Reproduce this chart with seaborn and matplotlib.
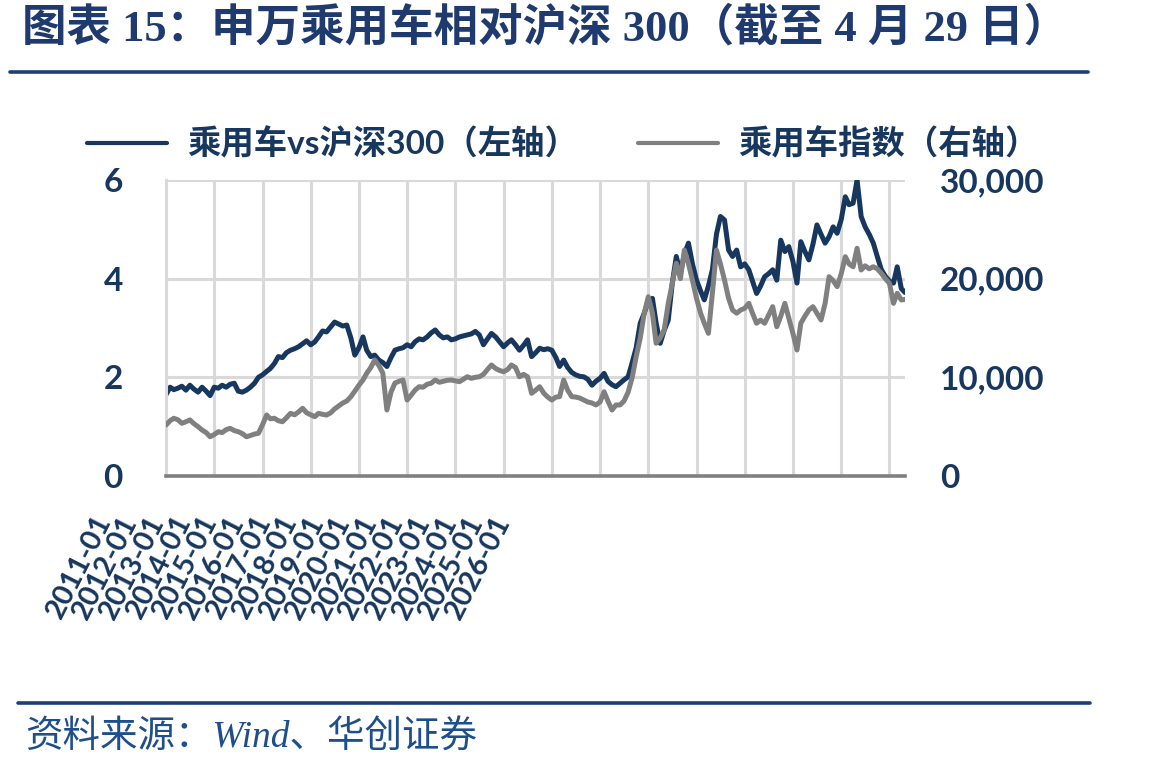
import pandas as pd
import numpy as np

import seaborn as sns
import matplotlib.pyplot as plt
from matplotlib.lines import Line2D
from matplotlib.ticker import FuncFormatter


# monthly readings, 2011-01 .. 2026-04, plus the last day (2026-04-29)
first_month = "2011-01-01"
last_day = "2026-04-29"

ratio_vals = [
    1.65, 1.80, 1.75, 1.78, 1.82, 1.74, 1.84, 1.76, 1.70, 1.80, 1.72, 1.63,  # 2011
    1.80, 1.78, 1.84, 1.80, 1.86, 1.88, 1.72, 1.70, 1.74, 1.80, 1.88, 2.00,  # 2012
    2.05, 2.12, 2.18, 2.28, 2.42, 2.40, 2.50, 2.55, 2.58, 2.62, 2.68, 2.74,  # 2013
    2.66, 2.72, 2.82, 2.94, 2.92, 3.02, 3.12, 3.08, 3.04, 3.06, 2.80, 2.45,  # 2014
    2.60, 2.82, 2.55, 2.42, 2.45, 2.35, 2.30, 2.22, 2.40, 2.55, 2.58, 2.60,  # 2015
    2.66, 2.62, 2.72, 2.78, 2.76, 2.82, 2.90, 2.96, 2.86, 2.80, 2.82, 2.76,  # 2016
    2.78, 2.82, 2.84, 2.86, 2.88, 2.93, 2.86, 2.66, 2.78, 2.89, 2.82, 2.72,  # 2017
    2.62, 2.70, 2.76, 2.66, 2.55, 2.65, 2.76, 2.42, 2.50, 2.59, 2.56, 2.58,  # 2018
    2.55, 2.40, 2.22, 2.35, 2.20, 2.10, 2.05, 2.02, 2.01, 1.96, 1.84, 1.92,  # 2019
    1.98, 2.08, 1.92, 1.85, 1.81, 1.88, 1.95, 2.01, 2.30, 2.60, 3.10, 3.30,  # 2020
    3.55, 3.60, 3.10, 2.69, 2.95, 3.16, 3.90, 4.45, 4.10, 4.50, 4.72, 4.30,  # 2021
    3.97, 3.75, 3.57, 3.85, 4.18, 4.90, 5.26, 5.19, 4.58, 4.45, 4.58, 4.24,  # 2022
    4.30, 4.18, 3.95, 3.70, 3.85, 4.04, 4.10, 4.18, 3.97, 4.78, 4.55, 4.65,  # 2023
    4.35, 3.91, 4.75, 4.55, 4.38, 4.70, 5.09, 4.90, 4.72, 4.85, 5.05, 4.92,  # 2024
    5.20, 5.66, 5.50, 5.53, 6.00, 5.26, 5.05, 4.90, 4.72, 4.45, 4.18, 4.05,  # 2025
    3.95, 3.91, 4.24, 3.80,                                                  # 2026
    3.72,
]

index_vals = [
    5170, 5600, 5850, 5700, 5340, 5500, 5680, 5300, 5000, 4660, 4400, 3980,
    4200, 4490, 4400, 4700, 4830, 4600, 4490, 4300, 3980, 4100, 4250, 4330,
    5200, 6180, 5800, 5850, 5600, 5500, 5900, 6350, 6200, 6500, 6860, 6400,
    6200, 6010, 6350, 6250, 6180, 6400, 6800, 7100, 7400, 7600, 8040, 8600,
    9200, 9730, 10400, 11000, 11760, 11200, 10440, 6690, 8500, 9420, 9600, 9730,
    7700, 8200, 8700, 9050, 9000, 9300, 9400, 9730, 9500, 9600, 9700, 9730,
    9650, 9560, 9800, 10060, 9900, 10000, 10060, 10300, 10800, 11250, 10900, 10700,
    10570, 10800, 11250, 11000, 10060, 10300, 10060, 8380, 8700, 9050, 8400, 8000,
    7700, 8000, 8040, 9730, 8700, 8040, 8000, 7900, 7700, 7500, 7400, 7200,
    7500, 8540, 7600, 6690, 7200, 7200, 7600, 8500, 10000, 12090, 14000, 16500,
    18170, 16500, 13450, 14000, 14800, 17500, 19500, 21560, 20000, 22900, 21500, 19860,
    18000, 16500, 15480, 14460, 18500, 22900, 21500, 19860, 18000, 16820, 16500, 16820,
    17000, 17500, 16500, 15480, 15800, 15480, 16300, 17160, 15130, 16200, 17500, 16000,
    14460, 12770, 15480, 16200, 16820, 17160, 16500, 15810, 17500, 20200, 19800, 19190,
    20500, 22230, 21500, 21210, 23080, 20880, 21300, 21000, 21210, 21000, 20540, 20000,
    19530, 17500, 18520, 17840,
    17900,
]

year_labels = [f"{y}-01" for y in range(2011, 2027)]

title = "图表 15：申万乘用车相对沪深 300（截至 4 月 29 日）"
left_name = "乘用车vs沪深300（左轴）"
right_name = "乘用车指数（右轴）"
source = "资料来源：Wind、华创证券"

navy = "#17375E"
grey = "#808080"
grid_col = "#D9D9D9"
rule_col = "#1B3F7A"

dates = list(pd.date_range(first_month, periods=len(ratio_vals) - 1, freq="MS"))
dates.append(pd.Timestamp(last_day))
df = pd.DataFrame({"date": dates, "ratio": ratio_vals, "index": index_vals})

sns.set_style("white")
plt.rcParams["font.family"] = ["Lato", "Noto Sans CJK SC", "DejaVu Sans"]

W, H = 1149, 771
fig = plt.figure(figsize=(W / 100, H / 100), dpi=100)
ax = fig.add_axes([166 / W, 1 - 476 / H, (905 - 166) / W, 296 / H])

sns.lineplot(data=df, x="date", y="ratio", ax=ax, color=navy, lw=3.6, legend=False)
ax2 = ax.twinx()
sns.lineplot(data=df, x="date", y="index", ax=ax2, color=grey, lw=3.6, legend=False)

ax.set_xlim(pd.Timestamp(first_month), pd.Timestamp(last_day))
ax.set_ylim(0, 6)
ax2.set_ylim(0, 30000)
ax.set_xticks(pd.date_range("2011-01-01", "2026-01-01", freq="YS"))
ax.set_yticks([0, 2, 4, 6])
ax2.set_yticks([0, 10000, 20000, 30000])
ax2.yaxis.set_major_formatter(FuncFormatter(lambda v, p: f"{v:,.0f}"))

ax.grid(True, color=grid_col, lw=2.2)
ax.set_axisbelow(True)
ax.set_xlabel("")
ax.set_ylabel("")
ax2.set_ylabel("")
for s in ["top", "right"]:
    ax.spines[s].set_visible(False)
ax.spines["left"].set_color(grid_col)
ax.spines["left"].set_linewidth(2.2)
ax.spines["bottom"].set_color(grey)
ax.spines["bottom"].set_linewidth(2.6)
for s in ax2.spines.values():
    s.set_visible(False)

tick_font = dict(family=["Lato", "Noto Sans CJK SC"], size=24, weight="bold")
ax.tick_params(axis="x", length=0, labelbottom=False)
ax.tick_params(axis="y", length=0, pad=31, labelcolor=navy)
ax2.tick_params(axis="y", length=0, pad=25, labelcolor=navy)
for t in ax.get_yticklabels() + ax2.get_yticklabels():
    t.set_fontproperties(tick_font)

# category labels sit left of their gridlines, as in the source chart
lab_ax = fig.add_axes([93 / W, 1 - 511 / H, (492 - 93) / W, 0.001])
lab_ax.set_xlim(0, len(year_labels) - 1)
lab_ax.set_xticks(range(len(year_labels)))
lab_ax.set_xticklabels(year_labels, rotation=63, ha="right", va="top",
                       rotation_mode="anchor", color=navy, fontsize=21,
                       fontweight="bold")
lab_ax.tick_params(length=0, pad=0)
lab_ax.set_yticks([])
lab_ax.patch.set_visible(False)
for s in lab_ax.spines.values():
    s.set_visible(False)

handles = [Line2D([], [], color=navy, lw=3), Line2D([], [], color=grey, lw=3)]
fig.legend(handles, [left_name, right_name], loc="center left",
           bbox_to_anchor=(87 / W, 1 - 143 / H), ncol=2, frameon=False,
           handlelength=2.4, handletextpad=0.6, columnspacing=1.8,
           borderpad=0, borderaxespad=0,
           prop=dict(family=["Lato", "Noto Sans CJK SC"], size=24, weight="bold"),
           labelcolor=navy)

fig.text(22 / W, 1 - 28 / H, title, ha="left", va="center", fontsize=32,
         fontweight="bold", color="#1F3A6E",
         family=["Liberation Serif", "Noto Sans CJK SC"])
fig.add_artist(Line2D([10 / W, 1088 / W], [1 - 72 / H] * 2, color=rule_col, lw=2.6))
fig.add_artist(Line2D([18 / W, 1090 / W], [1 - 703 / H] * 2, color=rule_col, lw=2.6))
fig.text(25 / W, 1 - 738 / H, source, ha="left", va="center", fontsize=27,
         style="italic", color="#1F4E8C",
         family=["Liberation Serif", "Noto Sans CJK SC"])

plt.savefig("out.png", dpi=100)
plt.close()
